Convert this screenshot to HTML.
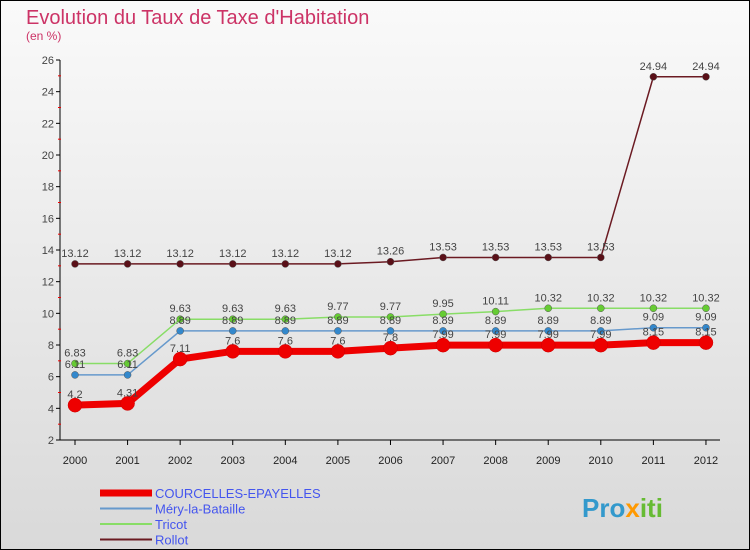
<!DOCTYPE html>
<html><head><meta charset="utf-8"><style>
body{margin:0;background:#fff}
svg{display:block;font-family:"Liberation Sans",sans-serif}
</style></head><body>
<svg width="750" height="550" viewBox="0 0 750 550">
<defs><linearGradient id="bg" x1="0" y1="0" x2="0" y2="1"><stop offset="0" stop-color="#fafafa"/><stop offset="1" stop-color="#d9d9d9"/></linearGradient></defs>
<rect x="0.5" y="0.5" width="749" height="549" fill="url(#bg)" stroke="#000"/>
<text x="26" y="24" font-size="20" fill="#cc3366">Evolution du Taux de Taxe d'Habitation</text>
<text x="26" y="40" font-size="12" fill="#cc3366">(en %)</text>
<g id="axes"></g><g id="series"></g><g id="legend"></g>
<text x="582" y="517" font-size="26" font-weight="bold" fill="#3399cc">Pro<tspan fill="#ff9900">x</tspan><tspan fill="#66bb33">iti</tspan></text>
</svg>
<script>
const years=[2000,2001,2002,2003,2004,2005,2006,2007,2008,2009,2010,2011,2012];
const yTicks=[2,4,6,8,10,12,14,16,18,20,22,24,26];
const courcelles=[4.2,4.31,7.11,7.6,7.6,7.6,7.8,7.99,7.99,7.99,7.99,8.15,8.15];
const mery=[6.11,6.11,8.89,8.89,8.89,8.89,8.89,8.89,8.89,8.89,8.89,9.09,9.09];
const tricot=[6.83,6.83,9.63,9.63,9.63,9.77,9.77,9.95,10.11,10.32,10.32,10.32,10.32];
const rollot=[13.12,13.12,13.12,13.12,13.12,13.12,13.26,13.53,13.53,13.53,13.53,24.94,24.94];
const seriesNames=["COURCELLES-EPAYELLES","Méry-la-Bataille","Tricot","Rollot"];
const NS="http://www.w3.org/2000/svg";
const X=i=>75+i*52.58, Y=v=>440-(v-2)*(380/24);
function mk(t,a,p){const e=document.createElementNS(NS,t);for(const k in a)e.setAttribute(k,a[k]);p.appendChild(e);return e;}
const ax=document.getElementById('axes');
let l=mk('line',{x1:60,y1:60,x2:60,y2:440,stroke:'#000'},ax);


l=mk('line',{x1:60,y1:440,x2:720,y2:440,stroke:'#000'},ax);


yTicks.forEach(v=>{mk('line',{x1:56,x2:60,y1:Y(v),y2:Y(v),stroke:'#000'},ax);
 if(v<26)mk('line',{x1:58,x2:61,y1:Y(v+1),y2:Y(v+1),stroke:'#e00'},ax);
 const t=mk('text',{x:54,y:Y(v)+4,'font-size':11,fill:'#444','text-anchor':'end'},ax);t.textContent=v;
 
 });
years.forEach((y,i)=>{mk('line',{x1:X(i),x2:X(i),y1:440,y2:445,stroke:'#000'},ax);
 const t=mk('text',{x:X(i),y:464,'font-size':11,fill:'#222','text-anchor':'middle'},ax);t.textContent=y;
 
 });
const sg=document.getElementById('series');
const defs=[[rollot,'#6b1a22','#5a1018',1.5,3.5,-1],[tricot,'#88dd66','#66cc33',1.5,3.5,-1],[mery,'#6699cc','#3388cc',1.5,3.5,-1],[courcelles,'#ee0000','#ee0000',7,7,-1]];
const names=['rollot','tricot','mery','courcelles'];
defs.forEach((d,k)=>{const [vals,lc,pc,w,r]=d;
 const p=mk('polyline',{points:vals.map((v,i)=>X(i)+','+Y(v)).join(' '),fill:'none',stroke:lc,'stroke-width':w},sg);
 
 
 vals.forEach((v,i)=>{const c=mk('circle',{cx:X(i),cy:Y(v),r:r,fill:pc,stroke:k==3?'#cc0000':'#555','stroke-width':0.5},sg);
  
  
  const t=mk('text',{x:X(i),y:Y(v)-7,'font-size':11,fill:'#444','text-anchor':'middle'},sg);t.textContent=v;
  
  });});
const lg=document.getElementById('legend');
const lcols=['#ee0000','#6699cc','#88dd66','#6b1a22'],lw=[7,2,2,2];
seriesNames.forEach((n,i)=>{const y=493+i*15.5;
 const g=mk('g',{},lg);
 
 
 mk('line',{x1:100,x2:152,y1:y,y2:y,stroke:lcols[i],'stroke-width':lw[i]},g);
 const t=mk('text',{x:155,y:y+5,'font-size':13,fill:'#4455ee'},g);t.textContent=n;});
</script>
</body></html>
